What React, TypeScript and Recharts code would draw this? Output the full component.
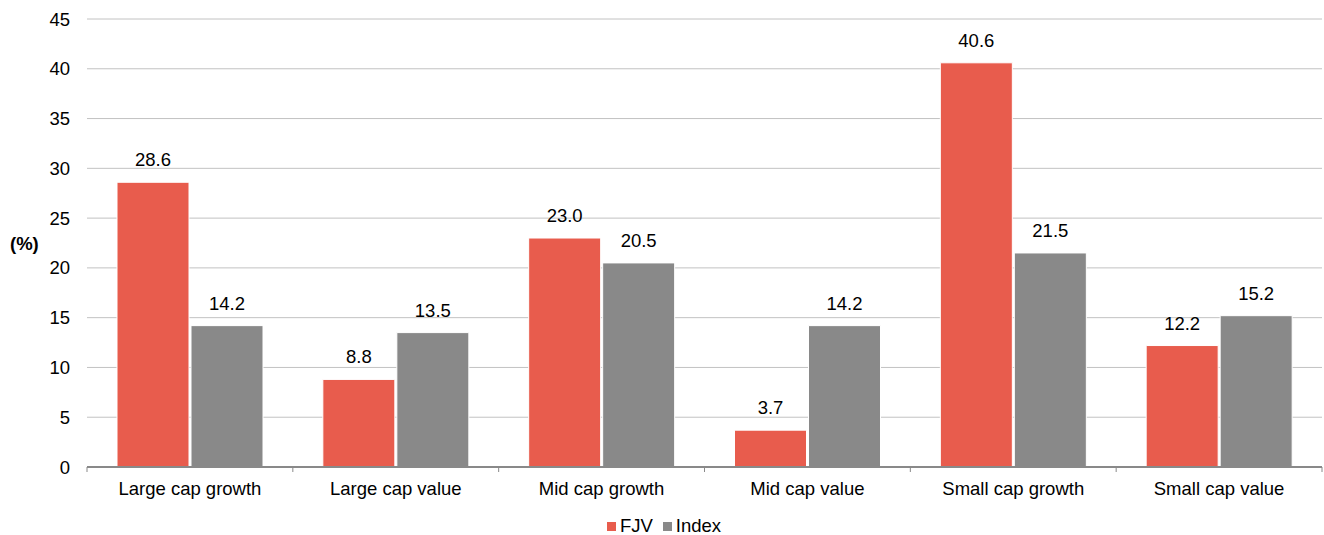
import {
  BarChart,
  Bar,
  XAxis,
  YAxis,
  CartesianGrid,
  Legend,
  LabelList,
} from "recharts";

const categories = [
  "Large cap growth",
  "Large cap value",
  "Mid cap growth",
  "Mid cap value",
  "Small cap growth",
  "Small cap value",
];
const fjv = [28.6, 8.8, 23.0, 3.7, 40.6, 12.2];
const index = [14.2, 13.5, 20.5, 14.2, 21.5, 15.2];
const yTicks = [0, 5, 10, 15, 20, 25, 30, 35, 40, 45];

const RED = "#E85C4D";
const GRAY = "#898989";
const FS = 18.5;
const TICK_GAP = 15;

// category label plus small tick marks on the band edges
function CatTick(props: any) {
  const { x, y, payload, index: i } = props;
  const half = payload && payload.offset ? payload.offset : 103;
  const axisY = y - TICK_GAP;
  return (
    <g>
      <line x1={x - half} x2={x - half} y1={axisY} y2={axisY + 5} stroke={GRAY} />
      {i === categories.length - 1 && (
        <line x1={x + half} x2={x + half} y1={axisY} y2={axisY + 5} stroke={GRAY} />
      )}
      <text x={x} y={y} dy="0.71em" textAnchor="middle" fontSize={FS} fill="#000">
        {payload.value}
      </text>
    </g>
  );
}

function LegendBox(props: any) {
  const items = props.payload || [];
  return (
    <div
      style={{
        display: "flex",
        justifyContent: "center",
        alignItems: "center",
        height: 22,
        lineHeight: "22px",
        fontSize: FS,
        color: "#000",
        paddingLeft: 16,
        transform: "translateY(2px)",
      }}
    >
      {items.map((p: any) => (
        <span
          key={p.value}
          style={{ display: "flex", alignItems: "center", marginRight: 10 }}
        >
          <span
            style={{
              width: 9,
              height: 9,
              background: p.color,
              marginRight: 4,
              display: "inline-block",
            }}
          />
          {p.value}
        </span>
      ))}
    </div>
  );
}

export default function App() {
  const data = categories.map((name, i) => ({
    name,
    FJV: fjv[i],
    Index: index[i],
  }));

  const fmt = (v: any) => Number(v).toFixed(1);

  return (
    <div
      style={{
        position: "absolute",
        left: 0,
        top: 0,
        width: 1324,
        height: 535,
        fontFamily: "Arial, 'Liberation Sans', sans-serif",
      }}
    >
      <BarChart
        width={1324}
        height={535}
        data={data}
        margin={{ top: 19, right: 2, left: 0, bottom: 0 }}
        barGap={2}
      >
        <CartesianGrid vertical={false} stroke="#c2c2c2" strokeWidth={1} />
        <XAxis
          dataKey="name"
          height={46}
          axisLine={{ stroke: GRAY, strokeWidth: 2 }}
          tickLine={false}
          tickSize={0}
          tickMargin={TICK_GAP}
          tick={<CatTick />}
          interval={0}
        />
        <YAxis
          width={87}
          domain={[0, 45]}
          ticks={yTicks}
          axisLine={false}
          tickLine={false}
          tickSize={0}
          tickMargin={17}
          tick={{ fill: "#000", fontSize: FS }}
          label={{
            value: "(%)",
            position: "insideLeft",
            offset: 10,
            angle: 0,
            style: { fill: "#000", fontSize: FS, fontWeight: "bold" },
          }}
        />
        <Legend
          verticalAlign="bottom"
          height={22}
          content={<LegendBox />}
        />
        <Bar
          dataKey="FJV"
          fill={RED}
          stroke="#fff"
          strokeWidth={1}
          barSize={72}
          isAnimationActive={false}
        >
          <LabelList
            dataKey="FJV"
            position="top"
            offset={16}
            formatter={fmt}
            style={{ fill: "#000", fontSize: FS }}
          />
        </Bar>
        <Bar
          dataKey="Index"
          fill={GRAY}
          stroke="#fff"
          strokeWidth={1}
          barSize={72}
          isAnimationActive={false}
        >
          <LabelList
            dataKey="Index"
            position="top"
            offset={16}
            formatter={fmt}
            style={{ fill: "#000", fontSize: FS }}
          />
        </Bar>
      </BarChart>
    </div>
  );
}
